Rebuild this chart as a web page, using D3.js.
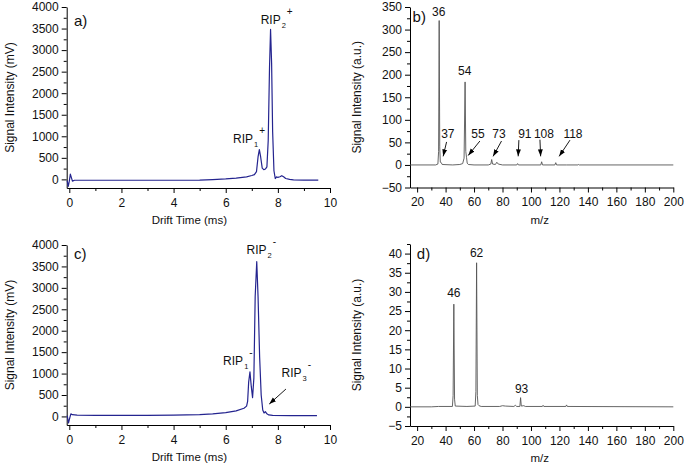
<!DOCTYPE html>
<html><head><meta charset="utf-8">
<script src="https://cdn.jsdelivr.net/npm/d3@7"></script>
<style>
body{margin:0;background:#fff;}
svg{display:block;font-family:"Liberation Sans",Arial,sans-serif;}
.axis path,.axis line{stroke:#000;stroke-width:1;}
.axis text{font-size:12px;fill:#111;}
</style></head><body>
<svg id="c" width="685" height="467"></svg>
<script>
// ---- DATA ----
const driftA = [[-0.08,-30],[-0.04,-160],[0.0,-40],[0.04,120],[0.08,40],[0.12,-40],[0.2,-20],[1,-20],[2,-20],[3,-20],[4,-20],[5,-15],[5.5,-5],[6,10],[6.4,30],[6.8,60],[7.0,90],[7.1,110],[7.18,180],[7.24,520],[7.29,690],[7.34,520],[7.4,260],[7.46,225],[7.52,240],[7.58,290],[7.63,900],[7.68,2600],[7.72,3480],[7.76,2700],[7.8,1100],[7.85,200],[7.9,20],[7.95,60],[8.0,45],[8.08,60],[8.15,85],[8.22,60],[8.3,20],[8.45,0],[8.6,-10],[9.0,-15],[9.55,-15]];
const driftC = [[-0.08,20],[-0.03,-150],[0.02,-30],[0.06,60],[0.12,40],[0.3,30],[1,25],[2,25],[3,25],[4,30],[5,40],[5.5,60],[6,90],[6.4,130],[6.7,190],[6.8,240],[6.84,350],[6.88,800],[6.93,1040],[6.98,700],[7.03,440],[7.08,900],[7.13,2800],[7.19,3610],[7.24,2800],[7.3,1400],[7.36,500],[7.42,150],[7.47,80],[7.52,110],[7.58,60],[7.65,35],[7.8,25],[8.5,20],[9.5,20]];
const spectrumB = [[15,0],[33,0],[34.6,2],[35.1,30],[35.5,320],[35.9,40],[36.3,6],[37,5],[37.6,1],[45,0],[50,1],[52,3],[53.0,15],[53.7,184],[54.2,30],[54.7,17],[55.2,4],[56,1],[60,0],[70,0],[71.8,2],[72.4,12],[73,2],[75,1],[76,6],[77,2],[80,0],[90,0],[90.6,3],[91.2,0],[106.9,0],[107.5,7],[108.1,0],[116.8,0],[117.4,5],[118,0],[125,0],[133,0],[133.5,1],[134,0],[200,0]];
const spectrumD = [[15,0],[30,0],[35,0.1],[44.8,0.1],[45.3,3],[45.8,26.8],[46.3,2],[46.8,0.2],[55,0.1],[60.8,0.2],[61.3,4],[61.8,37.6],[62.3,3],[62.8,0.6],[63.5,0.3],[65,0.1],[78,0.1],[80,0.3],[82,0.2],[88,0.1],[89,0.4],[90,0.1],[92.2,0.1],[92.7,2.4],[93.2,0.2],[95,0.3],[96,0.1],[108,0.1],[108.5,0.4],[109,0.1],[124.5,0.1],[125,0.5],[125.5,0.1],[200,0]];

const driftTicks = [0,2,4,6,8,10];
const mvTicks = [0,500,1000,1500,2000,2500,3000,3500,4000];
const mzTicks = [20,40,60,80,100,120,140,160,180,200];
const bTicks = [-50,0,50,100,150,200,250,300,350];
const dTicks = [-5,0,5,10,15,20,25,30,35,40];

// annotations (data coordinates)
const labelsB = [{t:"36",x:35.2,y:330},{t:"54",x:53.5,y:199},{t:"37",x:41.6,y:60},{t:"55",x:62.7,y:60},{t:"73",x:77.5,y:60},{t:"91",x:95.7,y:60},{t:"108",x:109.1,y:60},{t:"118",x:129.5,y:60}];
const arrowsB = [[40.7,51,38.3,19],[64.1,53,55.9,21],[79.3,53,73.4,19],[91.5,55,91,19],[106.3,56,106.8,19],[127.4,55,119.8,19]];
const labelsD = [{t:"62",x:61.8,y:39.2},{t:"46",x:45.8,y:28.7},{t:"93",x:93.4,y:3.7}];
const ripA = [{sub:"2",sup:"+",x:7.34,y:3605},{sub:"1",sup:"+",x:6.28,y:842}];
const ripC = [{sub:"2",sup:"-",x:6.8,y:3789},{sub:"1",sup:"-",x:5.9,y:1199},{sub:"3",sup:"-",x:8.14,y:926}];
const arrowsC = [[8.31,639,7.67,289]];

const svg = d3.select("#c");
svg.append("defs").append("marker").attr("id","ah").attr("viewBox","0 0 10 10")
  .attr("refX",10).attr("refY",5).attr("markerWidth",7).attr("markerHeight",7)
  .attr("markerUnits","userSpaceOnUse").attr("orient","auto")
  .append("path").attr("d","M0,1.5L10,5L0,8.5Z").attr("fill","#000");

const fmt = d3.format("d");
function panel(o){
  const x = d3.scaleLinear().domain(o.xd).range(o.xr);
  const y = d3.scaleLinear().domain(o.yd).range(o.yr);
  const g = svg.append("g");
  g.append("g").attr("class","axis").attr("transform",`translate(0,${o.yr[0]})`)
    .call(d3.axisBottom(x).tickValues(o.xminor).tickSize(3).tickFormat("")).select(".domain").remove();
  g.append("g").attr("class","axis").attr("transform",`translate(${o.xr[0]},0)`)
    .call(d3.axisLeft(y).tickValues(o.yminor).tickSize(3).tickFormat("")).select(".domain").remove();
  g.append("g").attr("class","axis").attr("transform",`translate(0,${o.yr[0]})`)
    .call(d3.axisBottom(x).tickValues(o.xt).tickFormat(fmt).tickSize(5).tickSizeOuter(0).tickPadding(5));
  g.append("g").attr("class","axis").attr("transform",`translate(${o.xr[0]},0)`)
    .call(d3.axisLeft(y).tickValues(o.yt).tickFormat(fmt).tickSize(5).tickSizeOuter(0).tickPadding(3));
  g.append("path").datum(o.data).attr("fill","none").attr("stroke",o.color).attr("stroke-width",o.sw)
    .attr("stroke-linejoin","round")
    .attr("d",d3.line().x(d=>x(d[0])).y(d=>y(d[1])));
  g.append("text").attr("x",(o.xr[0]+o.xr[1])/2+o.xtOff).attr("y",o.yr[0]+36).attr("text-anchor","middle")
    .attr("font-size",11.5).attr("fill","#111").text(o.xtitle);
  const cy=(o.yr[0]+o.yr[1])/2;
  g.append("text").attr("transform",`translate(${o.ytx},${cy}) rotate(-90)`).attr("text-anchor","middle")
    .attr("font-size",12).attr("fill","#111").text(o.ytitle);
  g.append("text").attr("x",x(o.letter.x)).attr("y",y(o.letter.y)).attr("font-size",15).attr("fill","#111").text(o.letter.t);
  return {g,x,y};
}

const minorDrift = d3.range(1,10,2);
const minorMZ = d3.range(30,200,20);

const A = panel({xd:[-0.1,10],xr:[66.7,330],yd:[-200,4000],yr:[188,7],xt:driftTicks,yt:mvTicks,
  xminor:minorDrift,yminor:d3.range(250,4000,500),data:driftA,color:"#24248f",sw:1.2,
  xtitle:"Drift Time (ms)",xtOff:-9,ytitle:"Signal Intensity (mV)",ytx:14,letter:{t:"a)",x:0.18,y:3560}});
const B = panel({xd:[15,200],xr:[410,673.3],yd:[-50,350],yr:[187.5,7],xt:mzTicks,yt:bTicks,
  xminor:minorMZ,yminor:d3.range(-25,350,50),data:spectrumB,color:"#555",sw:0.9,
  xtitle:"m/z",xtOff:-2,ytitle:"Signal Intensity (a.u.)",ytx:361,letter:{t:"b)",x:16.8,y:317}});
const C = panel({xd:[-0.1,10],xr:[66.7,330],yd:[-200,4000],yr:[425,245],xt:driftTicks,yt:mvTicks,
  xminor:minorDrift,yminor:d3.range(250,4000,500),data:driftC,color:"#24248f",sw:1.2,
  xtitle:"Drift Time (ms)",xtOff:-9,ytitle:"Signal Intensity (mV)",ytx:14,letter:{t:"c)",x:0.18,y:3672}});
const D = panel({xd:[15,200],xr:[410,673.3],yd:[-5,42.5],yr:[426,244],xt:mzTicks,yt:dTicks,
  xminor:minorMZ,yminor:d3.range(-2.5,43,5),data:spectrumD,color:"#555",sw:0.9,
  xtitle:"m/z",xtOff:-2,ytitle:"Signal Intensity (a.u.)",ytx:361,letter:{t:"d)",x:19.8,y:38.6}});

function ripLabels(P,list){
  list.forEach(r=>{
    const t=P.g.append("text").attr("x",P.x(r.x)).attr("y",P.y(r.y)).attr("font-size",12).attr("fill","#111");
    t.append("tspan").text("RIP");
    t.append("tspan").attr("font-size",7.5).attr("dx",1).attr("dy",4).text(r.sub);
    t.append("tspan").attr("font-size",10).attr("dx",1).attr("dy",-13).text(r.sup);
  });
}
ripLabels(A,ripA); ripLabels(C,ripC);

function numLabels(P,list){
  list.forEach(l=>P.g.append("text").attr("x",P.x(l.x)).attr("y",P.y(l.y)).attr("text-anchor","middle")
    .attr("font-size",12).attr("fill","#111").text(l.t));
}
numLabels(B,labelsB); numLabels(D,labelsD);

function arrows(P,list){
  list.forEach(a=>P.g.append("line").attr("x1",P.x(a[0])).attr("y1",P.y(a[1])).attr("x2",P.x(a[2])).attr("y2",P.y(a[3]))
    .attr("stroke","#000").attr("stroke-width",0.9).attr("marker-end","url(#ah)"));
}
arrows(B,arrowsB); arrows(C,arrowsC);
</script></body></html>
